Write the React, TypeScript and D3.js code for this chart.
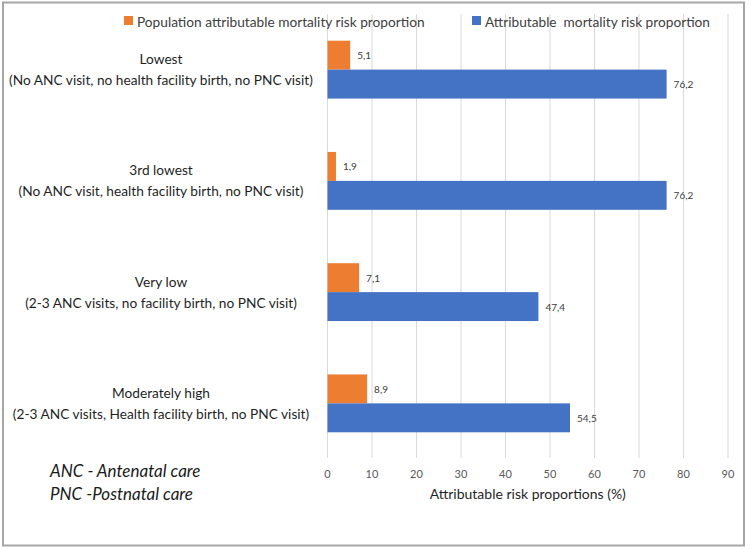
import React from "react";
import * as d3 from "d3";

const categoryTitles = ["Lowest", "3rd lowest", "Very low", "Moderately high"];
const categoryDetails = [
  "(No ANC visit, no health facility birth, no PNC visit)",
  "(No ANC visit, health facility birth, no PNC visit)",
  "(2-3 ANC visits, no facility birth, no PNC visit)",
  "(2-3 ANC visits, Health facility birth, no PNC visit)",
];
const seriesNames = [
  "Population attributable mortality risk proportion",
  "Attributable  mortality risk proportion",
];
const populationValues = [5.1, 1.9, 7.1, 8.9];
const attributableValues = [76.2, 76.2, 47.4, 54.5];
const xTicks = [0, 10, 20, 30, 40, 50, 60, 70, 80, 90];
const axisTitle = "Attributable risk proportions (%)";
const footnotes = ["ANC - Antenatal care", "PNC -Postnatal care"];

const COLORS = ["#ED7D31", "#4472C4"];
const FONT = "Lato, 'Open Sans', sans-serif";

export default function App() {
  const W = 750, H = 549;
  const x = d3.scaleLinear().domain([0, 90]).range([327.5, 728]);
  const y = d3.scaleBand<string>().domain(categoryTitles).range([14, 459]).padding(0);
  const bw = y.bandwidth();
  const sub = d3.scaleBand<number>().domain([0, 1]).range([bw * 0.24, bw * 0.76]).padding(0);
  const series = [populationValues, attributableValues];
  const fmt = (v: number) => v.toFixed(1).replace(".", ",");

  return (
    <svg width={W} height={H} style={{ position: "absolute", left: 0, top: 0, background: "#fff" }}>
      <rect x={3} y={2.5} width={741} height={543} fill="#fff" stroke="#a6a6a6" strokeWidth={2} />
      {/* gridlines */}
      {xTicks.map((t) => (
        <line key={t} x1={x(t)} x2={x(t)} y1={14} y2={458} stroke="#d9d9d9" strokeWidth={1} />
      ))}
      {/* legend */}
      {seriesNames.map((s, i) => {
        const lx = i === 0 ? 124 : 472;
        return (
          <g key={s}>
            <rect x={lx} y={16} width={9} height={9} fill={COLORS[i]} />
            <text
              x={lx + 13}
              y={21}
              dominantBaseline="central"
              fontFamily={FONT}
              fontSize={13.7}
              fill="#404040"
              style={{ whiteSpace: "pre" }}
            >
              {s}
            </text>
          </g>
        );
      })}
      {/* bars */}
      {categoryTitles.map((c, ci) => (
        <g key={c} transform={`translate(0,${y(c)})`}>
          {series.map((vals, si) => (
            <g key={si}>
              <rect
                x={x(0)}
                y={sub(si)}
                width={x(vals[ci]) - x(0)}
                height={sub.bandwidth()}
                fill={COLORS[si]}
              />
              <text
                x={x(vals[ci]) + 7}
                y={(sub(si) as number) + sub.bandwidth() / 2}
                dominantBaseline="central"
                fontFamily={FONT}
                fontSize={10}
                fill="#404040"
              >
                {fmt(vals[ci])}
              </text>
            </g>
          ))}
          <text x={161} y={bw / 2 - 11} textAnchor="middle" dominantBaseline="central" fontFamily={FONT} fontSize={13.7} fill="#1f1f1f">
            {c}
          </text>
          <text x={161} y={bw / 2 + 10} textAnchor="middle" dominantBaseline="central" fontFamily={FONT} fontSize={13.7} fill="#1f1f1f">
            {categoryDetails[ci]}
          </text>
        </g>
      ))}
      {/* tick labels */}
      {xTicks.map((t) => (
        <text key={t} x={x(t)} y={473} textAnchor="middle" dominantBaseline="central" fontFamily={FONT} fontSize={11} fill="#595959">
          {t}
        </text>
      ))}
      <text x={(x(0) + x(90)) / 2} y={493} textAnchor="middle" dominantBaseline="central" fontFamily={FONT} fontSize={14} fill="#1f1f1f">
        {axisTitle}
      </text>
      {footnotes.map((f, i) => (
        <text key={f} x={50} y={470 + i * 23} dominantBaseline="central" fontFamily={FONT} fontStyle="italic" fontSize={17} fill="#1a1a1a">
          {f}
        </text>
      ))}
    </svg>
  );
}
